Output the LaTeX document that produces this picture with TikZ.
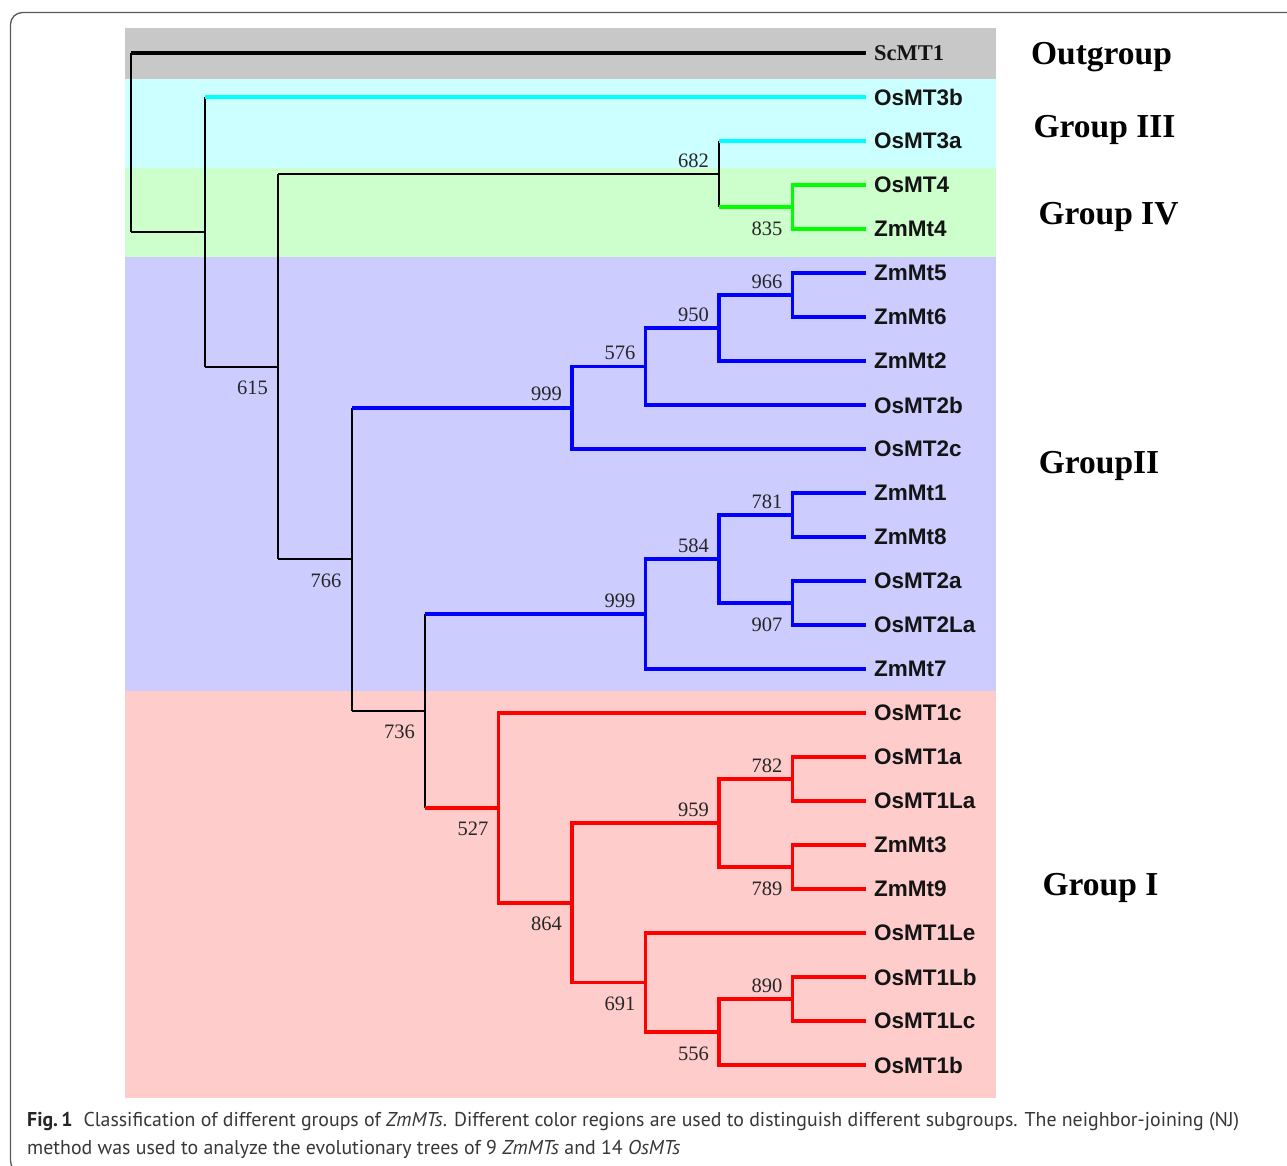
\documentclass[tikz,border=0pt]{standalone}
\usepackage{fontspec}
\usepackage{graphicx}
\setmainfont{Liberation Serif}
\newfontfamily\leaffont{Liberation Sans}
\newfontfamily\capfont{PT Sans}
\definecolor{bgOut}{RGB}{200,200,200}
\definecolor{bgIII}{RGB}{204,255,255}
\definecolor{bgIV}{RGB}{204,255,204}
\definecolor{bgII}{RGB}{204,204,255}
\definecolor{bgI}{RGB}{255,204,204}
\definecolor{cCyan}{RGB}{0,255,255}
\definecolor{cGreen}{RGB}{0,255,0}
\definecolor{cBlue}{RGB}{0,0,255}
\definecolor{cRed}{RGB}{255,0,0}
\definecolor{frameCol}{RGB}{90,90,90}
\definecolor{capCol}{RGB}{55,55,55}
\begin{document}
\begin{tikzpicture}[x=1pt,y=-1pt,
  bk/.style={black,line width=2pt},
  bkthick/.style={black,line width=3.8pt},
  cy/.style={cCyan,line width=3.8pt},
  gr/.style={cGreen,line width=3.8pt},
  bl/.style={cBlue,line width=3.8pt},
  rd/.style={cRed,line width=3.8pt},
  leaf/.style={anchor=west,inner xsep=8pt,inner ysep=0pt,text=black!92,
    font=\leaffont\bfseries\fontsize{22.5}{24}\selectfont},
  bootlab/.style={inner sep=0pt,anchor=base east,xshift=-10pt,text=black!85,
    font=\fontsize{20.5}{22}\selectfont},
  bup/.style={bootlab,yshift=7pt},
  bdown/.style={bootlab,yshift=-28pt},
  grp/.style={anchor=base,inner sep=0pt,font=\bfseries\fontsize{33.5}{36}\selectfont},
  captext/.style={anchor=base west,inner sep=0pt,text=capCol,font=\capfont\fontsize{20}{24}\selectfont}
]
\useasboundingbox (0,0) rectangle (1287,1165);
\fill[white] (0,0) rectangle (1287,1165);
% frame
\begin{scope}
\clip (0,0) rectangle (1287,1165);
\draw[frameCol,line width=1.3pt,rounded corners=12pt] (10.5,12.5) rectangle (1320,1173);
\end{scope}
% bands
\fill[bgOut] (125,28) rectangle (996,79);
\fill[bgIII] (125,79) rectangle (996,168);
\fill[bgIV] (125,168) rectangle (996,257);
\fill[bgII] (125,257) rectangle (996,691);
\fill[bgI] (125,691) rectangle (996,1098);

% leaves
\node[leaf,font=\bfseries\fontsize{22.5}{24}\selectfont] (ScMT1) at (866,53) {ScMT1};
\node[leaf] (OsMT3b) at (866,97) {OsMT3b};
\node[leaf] (OsMT3a) at (866,141) {OsMT3a};
\node[leaf] (OsMT4) at (866,185) {OsMT4};
\node[leaf] (ZmMt4) at (866,229) {ZmMt4};
\node[leaf] (ZmMt5) at (866,273) {ZmMt5};
\node[leaf] (ZmMt6) at (866,317) {ZmMt6};
\node[leaf] (ZmMt2) at (866,361) {ZmMt2};
\node[leaf] (OsMT2b) at (866,405) {OsMT2b};
\node[leaf] (OsMT2c) at (866,449) {OsMT2c};
\node[leaf] (ZmMt1) at (866,493) {ZmMt1};
\node[leaf] (ZmMt8) at (866,537) {ZmMt8};
\node[leaf] (OsMT2a) at (866,581) {OsMT2a};
\node[leaf] (OsMT2La) at (866,625) {OsMT2La};
\node[leaf] (ZmMt7) at (866,669) {ZmMt7};
\node[leaf] (OsMT1c) at (866,713) {OsMT1c};
\node[leaf] (OsMT1a) at (866,757) {OsMT1a};
\node[leaf] (OsMT1La) at (866,801) {OsMT1La};
\node[leaf] (ZmMt3) at (866,845) {ZmMt3};
\node[leaf] (ZmMt9) at (866,889) {ZmMt9};
\node[leaf] (OsMT1Le) at (866,933) {OsMT1Le};
\node[leaf] (OsMT1Lb) at (866,977) {OsMT1Lb};
\node[leaf] (OsMT1Lc) at (866,1021) {OsMT1Lc};
\node[leaf] (OsMT1b) at (866,1065) {OsMT1b};

% internal nodes
\coordinate (D) at (792.5,207);
\coordinate (C) at (719,174);
\coordinate (J) at (792.5,295);
\coordinate (I) at (719,328);
\coordinate (H) at (645.5,366.5);
\coordinate (F) at (572,407.75);
\coordinate (N) at (792.5,515);
\coordinate (O) at (792.5,603);
\coordinate (M) at (719,559);
\coordinate (K) at (645.5,614);
\coordinate (S) at (792.5,779);
\coordinate (T) at (792.5,867);
\coordinate (Q) at (719,823);
\coordinate (V) at (792.5,999);
\coordinate (U) at (719,1032);
\coordinate (R) at (645.5,982.5);
\coordinate (P) at (572,902.75);
\coordinate (L) at (498.5,807.9);
\coordinate (G) at (425,710.9);
\coordinate (E) at (351.5,559.3);
\coordinate (B) at (278,366.7);
\coordinate (A) at (204.5,231.8);
\coordinate (root) at (131,142.4);

% branches
\draw[bk] (root |- ScMT1) -- (root |- A);
\draw[bkthick] (root |- ScMT1) -- (ScMT1.west);
\draw[bk] (root |- A) -- (A);

\draw[bk] (A |- OsMT3b) -- (A |- B);
\draw[cy] (A |- OsMT3b) -- (OsMT3b.west);
\draw[bk] (A |- B) -- (B);

\draw[bk] (B |- C) -- (B |- E);
\draw[bk] (B |- C) -- (C);
\draw[bk] (B |- E) -- (E);

\draw[bk] (C |- OsMT3a) -- (C |- D);
\draw[cy] (C |- OsMT3a) -- (OsMT3a.west);
\draw[gr] (C |- D) -- (D);
\draw[gr] (OsMT4.west) -| (D) |- (ZmMt4.west);

\draw[bk] (E |- F) -- (E |- G);
\draw[bl] (E |- F) -- (F);
\draw[bk] (E |- G) -- (G);

\draw[bl] (H) -| (F) |- (OsMT2c.west);
\draw[bl] (I) -| (H) |- (OsMT2b.west);
\draw[bl] (J) -| (I) |- (ZmMt2.west);
\draw[bl] (ZmMt5.west) -| (J) |- (ZmMt6.west);

\draw[bk] (G |- K) -- (G |- L);
\draw[bl] (G |- K) -- (K);
\draw[rd] (G |- L) -- (L);

\draw[bl] (M) -| (K) |- (ZmMt7.west);
\draw[bl] (N) -| (M) |- (O);
\draw[bl] (ZmMt1.west) -| (N) |- (ZmMt8.west);
\draw[bl] (OsMT2a.west) -| (O) |- (OsMT2La.west);

\draw[rd] (OsMT1c.west) -| (L) |- (P);
\draw[rd] (Q) -| (P) |- (R);
\draw[rd] (S) -| (Q) |- (T);
\draw[rd] (OsMT1a.west) -| (S) |- (OsMT1La.west);
\draw[rd] (ZmMt3.west) -| (T) |- (ZmMt9.west);
\draw[rd] (OsMT1Le.west) -| (R) |- (U);
\draw[rd] (V) -| (U) |- (OsMT1b.west);
\draw[rd] (OsMT1Lb.west) -| (V) |- (OsMT1Lc.west);

% bootstrap values
\node[bup] (b682) at (C) {682};
\node[bdown] (b835) at (D) {835};
\node[bup] (b966) at (J) {966};
\node[bup] (b950) at (I) {950};
\node[bup] (b576) at (H) {576};
\node[bup] (b999a) at (F) {999};
\node[bup] (b781) at (N) {781};
\node[bdown] (b907) at (O) {907};
\node[bup] (b584) at (M) {584};
\node[bup] (b999b) at (K) {999};
\node[bup] (b782) at (S) {782};
\node[bdown] (b789) at (T) {789};
\node[bup] (b959) at (Q) {959};
\node[bup] (b890) at (V) {890};
\node[bdown] (b556) at (U) {556};
\node[bdown] (b691) at (R) {691};
\node[bdown] (b864) at (P) {864};
\node[bdown] (b527) at (L) {527};
\node[bdown] (b736) at (G) {736};
\node[bdown] (b766) at (E) {766};
\node[bdown] (b615) at (B) {615};

% group labels
\node[grp] (gOut) at (1101.5,64) {Outgroup};
\node[grp] (gIII) at (1104.5,137) {Group III};
\node[grp] (gIV) at (1108.5,224) {Group IV};
\node[grp] (gII) at (1099,473) {GroupII};
\node[grp] (gI) at (1100.5,895) {Group I};

% caption
\node[captext] (cap1) at (27,1126) {\resizebox{1212pt}{\height}{\textbf{\color{black!85}Fig.\,1}\hspace{0.55em}Classification of different groups of \textit{ZmMTs}. Different color regions are used to distinguish different subgroups. The neighbor-joining (NJ)}};
\node[captext] (cap2) at (27,1154) {\resizebox{653pt}{\height}{method was used to analyze the evolutionary trees of 9 \textit{ZmMTs} and 14 \textit{OsMTs}}};
\end{tikzpicture}
\end{document}
